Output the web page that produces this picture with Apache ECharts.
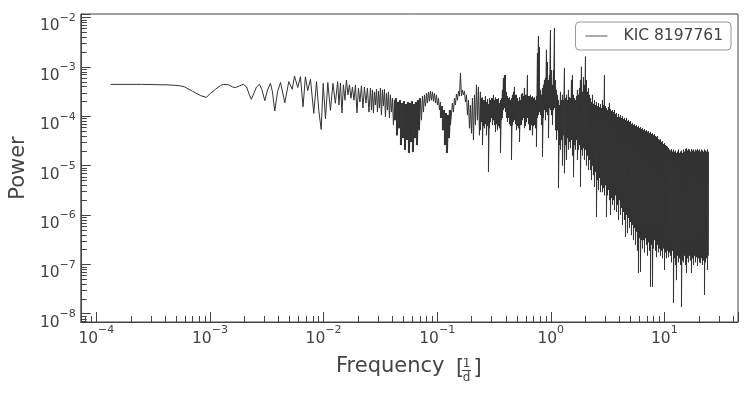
<!DOCTYPE html>
<html>
<head>
<meta charset="utf-8">
<script src="https://cdn.jsdelivr.net/npm/echarts@6/dist/echarts.min.js"></script>
<style>
html, body { margin: 0; padding: 0; background: #fff; }
#chart { width: 747px; height: 397px; }
</style>
</head>
<body>
<div id="chart"></div>
<script>
// periodogram of KIC 8197761
// smooth low-frequency part: [frequency (1/d), power]
const lowBand = [
    [1.34e-4, 4.4e-4], [2.5e-4, 4.4e-4], [4.2e-4, 4.3e-4], [5.0e-4, 4.2e-4], [5.5e-4, 4.1e-4], [6.0e-4, 3.9e-4],
    [7.0e-4, 3.2e-4], [8.3e-4, 2.6e-4], [9.3e-4, 2.4e-4], [1.01e-3, 2.9e-4], [1.12e-3, 3.5e-4], [1.24e-3, 4.2e-4],
    [1.32e-3, 4.4e-4], [1.46e-3, 4.3e-4], [1.58e-3, 3.9e-4], [1.68e-3, 3.8e-4], [1.82e-3, 4.1e-4], [1.97e-3, 4.4e-4],
    [2.10e-3, 3.9e-4], [2.21e-3, 2.8e-4], [2.31e-3, 2.2e-4], [2.42e-3, 2.8e-4], [2.57e-3, 3.9e-4], [2.73e-3, 4.4e-4],
    [2.87e-3, 3.4e-4], [3.04e-3, 2.05e-4], [3.21e-3, 3.4e-4], [3.41e-3, 4.6e-4], [3.55e-3, 3.1e-4], [3.72e-3, 1.27e-4],
    [3.93e-3, 3.1e-4], [4.18e-3, 4.8e-4], [4.56e-3, 1.87e-4], [4.94e-3, 5.0e-4], [5.3e-3, 3.5e-4], [5.55e-3, 6.5e-4],
    [5.93e-3, 3.8e-4], [6.26e-3, 6.3e-4], [6.6e-3, 1.55e-4], [6.92e-3, 6.3e-4], [7.26e-3, 3.3e-4], [7.67e-3, 5.6e-4],
    [8.2e-3, 1.14e-4], [8.67e-3, 5.0e-4], [9.08e-3, 1.31e-4], [9.53e-3, 5.4e-5], [9.93e-3, 4.6e-4], [1.04e-2, 8.9e-5],
    [1.09e-2, 4.8e-4], [1.15e-2, 1.31e-4], [1.21e-2, 4.6e-4], [1.27e-2, 1.82e-4], [1.33e-2, 5.0e-4]
];

// oscillating part: [frequency, power]
const midBand = [
    [0.01366, 1.68e-4], [0.01408, 4.7e-4], [0.01452, 1.16e-4], [0.01496, 4.3e-4], [0.01543, 2.1e-4], [0.0159, 5.4e-4],
    [0.01639, 2.7e-4], [0.0169, 4.3e-4], [0.01743, 2.3e-4], [0.01796, 3.9e-4], [0.01852, 2.1e-4], [0.01909, 4.3e-4],
    [0.01968, 1.16e-4], [0.02029, 3.7e-4], [0.02091, 1.93e-4], [0.02155, 4.1e-4], [0.02222, 1.46e-4], [0.0229, 3.9e-4],
    [0.02361, 1.84e-4], [0.02434, 3.7e-4], [0.02509, 1.21e-4],
    [0.02587, 3.7e-4], [0.0264, 1.33e-4], [0.02694, 3.4e-4], [0.02749, 1.16e-4], [0.02806, 3.1e-4], [0.02863, 1.68e-4],
    [0.02922, 3.5e-4], [0.02981, 1.21e-4], [0.03043, 3.2e-4], [0.03105, 1.46e-4],
    [0.03168, 3.7e-4], [0.03233, 1.05e-4], [0.03299, 3.4e-4], [0.03367, 1.6e-4], [0.03436, 3.5e-4], [0.03506, 9.6e-5],
    [0.03578, 2.9e-4], [0.03651, 1.33e-4], [0.03726, 3.1e-4], [0.03802, 9.2e-5],
    [0.0388, 2.7e-4], [0.0396, 1.21e-4], [0.04041, 2.3e-4]
];

// first dense dip: [frequency, upper power, lower power]
const dipA = [
    [0.04123, 2.1e-4, 6.6e-5], [0.04208, 2.1e-4, 8.3e-5], [0.04294, 2.3e-4, 8.3e-5], [0.04382, 2.3e-4, 4.1e-5],
    [0.04472, 1.93e-4, 4.1e-5], [0.04563, 1.93e-4, 5.7e-5], [0.04657, 2.1e-4, 5.7e-5], [0.04752, 2.1e-4, 2.6e-5],
    [0.04849, 1.84e-4, 2.6e-5], [0.04949, 1.84e-4, 3.6e-5], [0.0505, 2.0e-4, 3.6e-5], [0.05154, 2.0e-4, 2.1e-5],
    [0.05259, 1.76e-4, 2.1e-5], [0.05367, 1.76e-4, 3.3e-5], [0.05477, 1.93e-4, 3.3e-5], [0.05589, 1.93e-4, 1.8e-5],
    [0.05703, 1.84e-4, 1.8e-5], [0.0582, 1.84e-4, 3.0e-5], [0.05939, 2.0e-4, 3.0e-5], [0.06061, 2.0e-4, 1.9e-5],
    [0.06185, 1.76e-4, 1.9e-5], [0.06312, 1.76e-4, 3.6e-5], [0.06441, 1.93e-4, 3.6e-5], [0.06573, 1.93e-4, 2.6e-5],
    [0.06708, 2.1e-4, 2.6e-5], [0.06845, 2.1e-4, 5.2e-5], [0.06985, 2.3e-4, 5.2e-5]
];

// hump around 0.09: [frequency, power]
const humpBand = [
    [0.07128, 2.3e-4], [0.07274, 8.3e-5], [0.07423, 2.55e-4], [0.07575, 1.21e-4], [0.0773, 2.7e-4], [0.07889, 1.6e-4],
    [0.0805, 2.9e-4], [0.08215, 1.84e-4], [0.08383, 3.1e-4], [0.08555, 2.0e-4], [0.0873, 3.2e-4], [0.08909, 2.1e-4],
    [0.09092, 3.1e-4], [0.09277, 2.0e-4], [0.09468, 2.9e-4], [0.09662, 1.84e-4], [0.0986, 2.7e-4], [0.1006, 1.68e-4],
    [0.1027, 2.3e-4], [0.1048, 1.33e-4]
];

// second dense dip: [frequency, upper power, lower power]
const dipB = [
    [0.1069, 1.93e-4, 9.2e-5], [0.1091, 1.6e-4, 9.2e-5], [0.1113, 1.6e-4, 5.2e-5], [0.1136, 1.33e-4, 5.2e-5],
    [0.1159, 1.33e-4, 2.6e-5], [0.1183, 1.16e-4, 2.6e-5], [0.1207, 1.16e-4, 1.8e-5], [0.1232, 1.05e-4, 1.8e-5],
    [0.1257, 1.05e-4, 3.6e-5], [0.1283, 1.33e-4, 3.6e-5], [0.1309, 1.33e-4, 6.6e-5]
];

// hump around 0.16 and the dip after it: [frequency, power]
const humpBand2 = [
    [0.1336, 6.6e-5], [0.1363, 1.84e-4], [0.1391, 1.21e-4], [0.142, 2.3e-4], [0.1449, 1.68e-4], [0.1478, 2.8e-4],
    [0.1509, 2.1e-4], [0.154, 3.2e-4], [0.1571, 2.55e-4], [0.1604, 7.5e-4], [0.1637, 2.55e-4], [0.167, 3.4e-4],
    [0.1705, 2.7e-4], [0.174, 3.2e-4], [0.1775, 1.93e-4], [0.1812, 2.7e-4], [0.1849, 1.05e-4], [0.1886, 2.1e-4],
    [0.1925, 5.7e-5], [0.1964, 1.68e-4], [0.2004, 4.5e-5], [0.2045, 2.3e-4], [0.2087, 3.3e-5], [0.213, 2.7e-4],
    [0.2174, 6.6e-5], [0.2218, 4.3e-4], [0.2264, 8.3e-5], [0.231, 3.9e-4], [0.2357, 4.1e-5]
];

// dense part from 0.24 1/d up, one row per step: [frequency, upper power, lower power]
const highBand = [
    [0.2405, 3.1e-4, 5.2e-5], [0.2454, 2.3e-4, 7.6e-5], [0.2505, 2.4e-4, 2.6e-5], [0.2556, 2.1e-4, 6.3e-5], [0.2608, 2.1e-4, 5.7e-5],
    [0.2662, 2.55e-4, 6.9e-5], [0.2716, 1.93e-4, 4.1e-5], [0.2772, 2.2e-4, 6.3e-5], [0.2829, 1.76e-4, 7.4e-6], [0.2887, 2.3e-4, 5.7e-5],
    [0.2946, 2.1e-4, 7.6e-5], [0.3006, 2.3e-4, 9.2e-5], [0.3068, 2.3e-4, 6.6e-5], [0.3131, 2.7e-4, 8.3e-5], [0.3195, 2.1e-4, 6.6e-5],
    [0.326, 2.4e-4, 4.8e-5], [0.3327, 2.2e-4, 6.9e-5], [0.3395, 2.2e-4, 5.2e-5], [0.3465, 2.3e-4, 6.3e-5], [0.3536, 1.84e-4, 5.7e-5],
    [0.3608, 2.1e-4, 1.8e-5], [0.3682, 2.3e-4, 8.3e-5], [0.3757, 3.4e-4, 9.2e-5], [0.3834, 5.9e-4, 1.33e-4], [0.3913, 6.8e-4, 1.46e-4],
    [0.3993, 6.8e-4, 1.21e-4], [0.4075, 3.1e-4, 9.2e-5], [0.4158, 2.55e-4, 7.6e-5], [0.4243, 2.3e-4, 9.2e-5], [0.433, 2.4e-4, 6.9e-5],
    [0.4419, 2.1e-4, 6.3e-5], [0.451, 2.3e-4, 1.3e-5], [0.4602, 2.7e-4, 6.6e-5], [0.4696, 3.1e-4, 7.6e-5], [0.4792, 3.9e-4, 8.3e-5],
    [0.489, 2.7e-4, 6.9e-5], [0.4991, 2.7e-4, 5.2e-5], [0.5093, 2.3e-4, 6.3e-5], [0.5197, 2.0e-4, 5.7e-5], [0.5304, 2.4e-4, 3.0e-5],
    [0.5412, 2.1e-4, 6.6e-5], [0.5523, 2.8e-4, 6.6e-5], [0.5636, 2.9e-4, 8.3e-5], [0.5751, 2.55e-4, 9.2e-5], [0.5869, 3.7e-4, 5.7e-5],
    [0.599, 2.7e-4, 6.3e-5], [0.6112, 2.7e-4, 7.6e-5], [0.6237, 6.8e-4, 9.2e-5], [0.6365, 2.55e-4, 6.9e-5], [0.6496, 2.55e-4, 5.2e-5],
    [0.6628, 2.7e-4, 5.2e-5], [0.6764, 2.4e-4, 6.6e-5], [0.6903, 2.55e-4, 4.1e-5], [0.7044, 2.3e-4, 6.3e-5], [0.7188, 2.4e-4, 6.6e-5],
    [0.7335, 2.1e-4, 5.7e-5], [0.7486, 2.55e-4, 2.4e-5], [0.7639, 1.9e-3, 9.2e-5], [0.7795, 4.2e-3, 1.05e-4], [0.7955, 2.5e-3, 1.21e-4],
    [0.8117, 3.4e-4, 1.05e-4], [0.8283, 2.7e-4, 6.6e-5], [0.8453, 3.7e-4, 1.5e-5], [0.8626, 4.3e-4, 9.2e-5], [0.8803, 5.4e-4, 1.33e-4],
    [0.8983, 5.9e-4, 8.3e-5], [0.9167, 2.2e-3, 1.21e-4], [0.9355, 1.24e-3, 1.05e-4], [0.9547, 5.4e-4, 3.6e-5], [0.9742, 6.8e-4, 1.46e-4],
    [0.9941, 5.5e-3, 1.33e-4], [1.0145, 8.6e-4, 1.05e-4], [1.0353, 4.3e-4, 6.6e-5], [1.0565, 8.6e-4, 1.33e-4], [1.0781, 6.1e-3, 1.46e-4],
    [1.1002, 5.4e-4, 5.2e-5], [1.1227, 3.4e-4, 3.3e-5], [1.1457, 2.7e-4, 5.2e-5], [1.1692, 2.1e-4, 3.5e-6], [1.1931, 1.68e-4, 2.6e-5],
    [1.218, 3.1e-4, 2.1e-5], [1.243, 2.1e-4, 3.3e-5], [1.268, 2.7e-4, 1.0e-5], [1.294, 2.1e-4, 4.1e-5], [1.320, 9.4e-4, 7.0e-6],
    [1.347, 2.3e-4, 2.6e-5], [1.375, 2.7e-4, 1.3e-5], [1.403, 2.1e-4, 3.6e-5], [1.432, 3.4e-4, 2.1e-5], [1.461, 2.4e-4, 3.0e-5],
    [1.491, 2.3e-4, 2.25e-5], [1.522, 5.4e-4, 3.3e-5], [1.553, 6.8e-4, 1.6e-5], [1.585, 2.7e-4, 5.8e-6], [1.617, 2.3e-4, 2.6e-5],
    [1.650, 2.1e-4, 2.1e-5], [1.684, 2.55e-4, 3.3e-5], [1.718, 3.4e-4, 1.3e-5], [1.754, 2.7e-4, 2.1e-5], [1.790, 3.7e-4, 2.6e-5],
    [1.826, 5.4e-4, 3.7e-6], [1.863, 1.0e-3, 2.1e-5], [1.902, 3.1e-4, 1.6e-5], [1.940, 6.2e-4, 2.25e-5], [1.980, 4.3e-4, 1.3e-5],
    [2.021, 1.6e-3, 2.1e-5], [2.062, 5.4e-4, 1.0e-5], [2.104, 3.1e-4, 1.6e-5], [2.148, 3.7e-4, 8.1e-6], [2.192, 2.7e-4, 1.3e-5],
    [2.237, 2.3e-4, 8.1e-6], [2.283, 1.93e-4, 5.1e-6], [2.330, 2.7e-4, 1.0e-5], [2.377, 1.76e-4, 6.4e-6], [2.426, 2.1e-4, 3.7e-6],
    [2.476, 1.68e-4, 7.4e-6], [2.526, 1.93e-4, 9.1e-7], [2.578, 1.6e-4, 5.1e-6], [2.631, 1.84e-4, 3.2e-6], [2.685, 1.53e-4, 5.6e-6],
    [2.739, 1.76e-4, 2.9e-6], [2.795, 1.46e-4, 4.0e-6], [2.852, 2.1e-4, 2.9e-6], [2.911, 1.68e-4, 3.5e-6], [2.970, 6.8e-4, 2.5e-6],
    [3.031, 1.6e-4, 4.0e-6], [3.093, 1.46e-4, 9.1e-7], [3.157, 1.33e-4, 2.5e-6], [3.221, 1.53e-4, 3.2e-6], [3.287, 1.84e-4, 2.0e-6],
    [3.355, 1.39e-4, 1.0e-6], [3.424, 1.27e-4, 2.2e-6], [3.494, 1.33e-4, 1.6e-6], [3.565, 1.21e-4, 2.0e-6], [3.638, 1.33e-4, 1.26e-6],
    [3.713, 1.1e-4, 2.5e-6], [3.789, 1.16e-4, 1.15e-6], [3.867, 9.6e-5, 1.6e-6], [3.946, 1.1e-4, 7.9e-7], [4.027, 9.6e-5, 2.0e-6],
    [4.109, 1.05e-4, 1.0e-6], [4.193, 9.2e-5, 1.4e-6], [4.279, 1.0e-4, 6.3e-7], [4.367, 8.7e-5, 1.15e-6], [4.456, 9.2e-5, 7.9e-7],
    [4.547, 8.3e-5, 3.6e-7], [4.641, 9.2e-5, 1.0e-6], [4.736, 8.0e-5, 4.3e-7], [4.833, 8.3e-5, 8.7e-7], [4.932, 7.6e-5, 5.5e-7],
    [5.032, 8.0e-5, 7.2e-7], [5.135, 6.9e-5, 3.9e-7], [5.241, 7.3e-5, 6.3e-7], [5.348, 6.6e-5, 3.1e-7], [5.457, 6.9e-5, 5.5e-7],
    [5.569, 6.3e-5, 2.5e-7], [5.683, 6.6e-5, 4.6e-7], [5.799, 6.0e-5, 1.9e-7], [5.918, 6.3e-5, 6.7e-8], [6.039, 5.7e-5, 3.4e-7],
    [6.163, 6.0e-5, 7.0e-8], [6.289, 5.5e-5, 3.1e-7], [6.418, 5.7e-5, 2.1e-7], [6.549, 5.2e-5, 3.1e-7], [6.684, 5.5e-5, 1.75e-7],
    [6.821, 5.0e-5, 3.4e-7], [6.960, 5.2e-5, 2.5e-7], [7.103, 4.8e-5, 1.5e-7], [7.248, 5.0e-5, 2.8e-7], [7.397, 4.5e-5, 1.9e-7],
    [7.548, 4.8e-5, 3.5e-8], [7.703, 4.3e-5, 2.5e-7], [7.861, 4.5e-5, 3.5e-8], [8.021, 4.1e-5, 2.1e-7], [8.186, 4.3e-5, 3.1e-7],
    [8.353, 3.95e-5, 1.9e-7], [8.525, 3.8e-5, 1.4e-7], [8.699, 3.95e-5, 2.5e-7], [8.877, 3.4e-5, 1.75e-7], [9.059, 3.3e-5, 2.1e-7],
    [9.244, 3.4e-5, 1.5e-7], [9.434, 3.0e-5, 1.9e-7], [9.627, 3.1e-5, 1.33e-7], [9.824, 2.7e-5, 2.1e-7], [10.03, 2.85e-5, 7.7e-8],
    [10.23, 2.6e-5, 1.75e-7], [10.44, 2.5e-5, 1.33e-7], [10.65, 2.4e-5, 1.9e-7], [10.87, 2.25e-5, 1.4e-7], [11.09, 2.1e-5, 1.75e-7],
    [11.32, 2.0e-5, 1.5e-7], [11.55, 2.15e-5, 1.1e-7], [11.79, 1.9e-5, 1.9e-7], [12.03, 2.1e-5, 1.65e-8], [12.28, 1.9e-5, 1.33e-7],
    [12.53, 2.0e-5, 9.7e-8], [12.78, 1.8e-5, 4.8e-8], [13.05, 1.9e-5, 1.5e-7], [13.31, 2.1e-5, 1.1e-7], [13.59, 1.8e-5, 1.33e-7],
    [13.87, 1.9e-5, 9.7e-8], [14.15, 2.0e-5, 1.37e-8], [14.44, 1.8e-5, 1.2e-7], [14.74, 2.1e-5, 1.1e-7], [15.04, 1.9e-5, 1.5e-7],
    [15.35, 2.15e-5, 9.7e-8], [15.66, 2.25e-5, 6.7e-8], [15.99, 2.0e-5, 1.33e-7], [16.31, 2.15e-5, 1.1e-7], [16.65, 2.1e-5, 1.5e-7],
    [16.98, 1.9e-5, 1.2e-7], [17.33, 2.15e-5, 6.7e-8], [17.69, 2.0e-5, 1.33e-7], [18.05, 2.1e-5, 9.7e-8], [18.42, 1.9e-5, 1.5e-7],
    [18.79, 2.1e-5, 1.1e-7], [19.18, 2.0e-5, 1.4e-7], [19.57, 2.15e-5, 9.3e-8], [19.97, 2.0e-5, 1.33e-7], [20.38, 2.1e-5, 1.1e-7],
    [20.80, 1.9e-5, 1.06e-7], [21.23, 2.1e-5, 1.33e-7], [21.66, 2.0e-5, 9.7e-8], [22.10, 1.9e-5, 1.2e-7], [22.56, 2.1e-5, 2.4e-8],
    [23.02, 2.0e-5, 1.1e-7], [23.49, 1.9e-5, 1.33e-7], [23.97, 2.1e-5, 7.7e-8], [24.40, 1.9e-5, 1.5e-7]
];

// axis decades that get 2..9 minor ticks
const xDecades = [-5, -4, -3, -2, -1, 0, 1];
const yDecades = [-9, -8, -7, -6, -5, -4, -3, -2];
const minorSteps = [2, 3, 4, 5, 6, 7, 8, 9];

const xMin = 7.3e-5, xMax = 44.5;
const yMin = 6.8e-9, yMax = 1.17e-2;

const seriesName = 'KIC 8197761';
const axisColor = '#444';
const fontFamily = "'DejaVu Sans', sans-serif";

let curve = [];

function addPoints(points) {
    points.forEach(function (p) {
        curve.push([p[0], p[1]]);
    });
}

// a row stands for one dense step: go to its upper value, then down to its lower one
function addRows(rows) {
    rows.forEach(function (row) {
        curve.push([row[0], row[1]]);
        curve.push([row[0], row[2]]);
    });
}

addPoints(lowBand);
addPoints(midBand);
addRows(dipA);
addPoints(humpBand);
addRows(dipB);
addPoints(humpBand2);
addRows(highBand);

function minorTicks(decades, lo, hi) {
    let out = [];
    decades.forEach(function (d) {
        minorSteps.forEach(function (s) {
            let v = s * Math.pow(10, d);
            if (v > lo && v < hi) {
                out.push(v);
            }
        });
    });
    return out;
}

function powLabel(v) {
    let lg = Math.log10(v);
    let e = Math.round(lg);
    if (Math.abs(lg - e) > 1e-6) {
        return '';
    }
    return '{b|10}{sup|' + (e < 0 ? '\u2212' + (-e) : String(e)) + '}';
}

const labelRich = {
    b: {fontSize: 15.5, lineHeight: 22, verticalAlign: 'bottom', color: axisColor, fontFamily: fontFamily},
    sup: {fontSize: 11, lineHeight: 11, verticalAlign: 'top', color: axisColor, fontFamily: fontFamily}
};

function tickSeries(values, isY) {
    return {
        type: 'custom',
        silent: true,
        clip: false,
        z: 5,
        data: values.map(function (v) {
            return isY ? [xMin, v] : [v, yMin];
        }),
        encode: {x: 0, y: 1},
        renderItem: function (params, api) {
            let p = api.coord([api.value(0), api.value(1)]);
            let shape = isY
                ? {x1: p[0], y1: Math.round(p[1]) + 0.5, x2: p[0] + 6, y2: Math.round(p[1]) + 0.5}
                : {x1: Math.round(p[0]) + 0.5, y1: p[1], x2: Math.round(p[0]) + 0.5, y2: p[1] - 6};
            return {type: 'line', shape: shape, style: {stroke: axisColor, lineWidth: 1}};
        }
    };
}

const chart = echarts.init(document.getElementById('chart'), null, {renderer: 'canvas'});

chart.setOption({
    animation: false,
    backgroundColor: '#fff',
    grid: {
        left: 80, top: 14, width: 658, height: 308,
        show: true, borderColor: axisColor, borderWidth: 1, backgroundColor: 'transparent'
    },
    legend: {
        data: [seriesName],
        right: 16, top: 22,
        padding: [6, 8, 6, 10],
        icon: 'rect',
        itemWidth: 22, itemHeight: 1,
        itemStyle: {color: '#555'},
        backgroundColor: '#fff',
        borderColor: '#999', borderWidth: 1, borderRadius: 4,
        textStyle: {fontSize: 15.5, color: axisColor, fontFamily: fontFamily, padding: [0, 0, 0, 11]}
    },
    xAxis: {
        type: 'log', logBase: 10, min: xMin, max: xMax,
        axisLine: {show: true, lineStyle: {color: axisColor, width: 1}},
        axisTick: {show: true, inside: true, length: 10, lineStyle: {color: axisColor}},
        splitLine: {show: false},
        axisLabel: {interval: 0, margin: 3, formatter: powLabel, rich: labelRich}
    },
    yAxis: {
        type: 'log', logBase: 10, min: yMin, max: yMax,
        name: 'Power', nameLocation: 'middle', nameRotate: 90, nameGap: 46,
        nameTextStyle: {fontSize: 21, color: axisColor, fontFamily: fontFamily},
        axisLine: {show: true, lineStyle: {color: axisColor, width: 1}},
        axisTick: {show: true, inside: true, length: 10, lineStyle: {color: axisColor}},
        splitLine: {show: false},
        axisLabel: {interval: 0, margin: 5, padding: [12, 0, 0, 0], formatter: powLabel, rich: labelRich}
    },
    graphic: [
        {type: 'text', style: {x: 336, y: 367, text: 'Frequency', verticalAlign: 'middle',
            font: '21px ' + fontFamily, fill: axisColor}},
        {type: 'text', style: {x: 456, y: 369, text: '[', verticalAlign: 'middle',
            font: '21px ' + fontFamily, fill: axisColor}},
        {type: 'text', style: {x: 466.5, y: 364, text: '1', align: 'center', verticalAlign: 'middle',
            font: '12px ' + fontFamily, fill: axisColor}},
        {type: 'line', shape: {x1: 462, y1: 370.5, x2: 471, y2: 370.5}, style: {stroke: axisColor, lineWidth: 1}},
        {type: 'text', style: {x: 466.5, y: 377.5, text: 'd', align: 'center', verticalAlign: 'middle',
            font: '12px ' + fontFamily, fill: axisColor}},
        {type: 'text', style: {x: 473.5, y: 369, text: ']', verticalAlign: 'middle',
            font: '21px ' + fontFamily, fill: axisColor}}
    ],
    series: [
        {
            type: 'line',
            name: seriesName,
            data: curve,
            symbol: 'none',
            showSymbol: false,
            lineStyle: {color: '#333', width: 1},
            itemStyle: {color: '#333'},
            z: 2
        },
        tickSeries(minorTicks(xDecades, xMin, xMax), false),
        tickSeries(minorTicks(yDecades, yMin, yMax), true)
    ]
});
</script>
</body>
</html>
